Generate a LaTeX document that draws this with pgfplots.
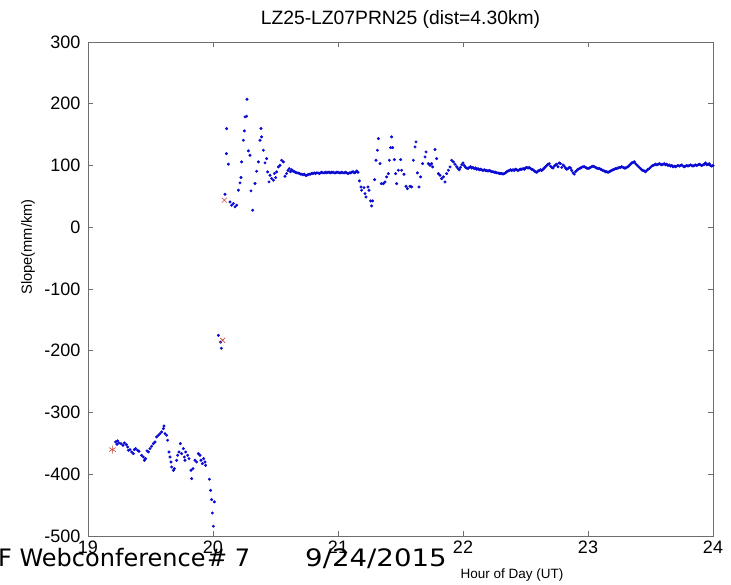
\documentclass[border=0pt]{standalone}
\usepackage{pgfplots}
\pgfplotsset{compat=1.18}
\usepackage{fontspec}
\setmainfont{Liberation Sans}
\newfontfamily\footerfont{DejaVu Sans}
\definecolor{dotblue}{RGB}{10,10,210}
\definecolor{mkred}{RGB}{200,70,60}
\definecolor{axgray}{RGB}{110,110,110}
\begin{document}
\begin{tikzpicture}[x=1pt,y=1pt]
\useasboundingbox (0,0) rectangle (731,584);
\begin{axis}[
  at={(88pt,48pt)}, anchor=south west,
  width=625pt, height=494pt, scale only axis,
  xmin=19, xmax=24, ymin=-500, ymax=300,
  xtick={19,20,21,22,23,24},
  ytick={-500,-400,-300,-200,-100,0,100,200,300},
  tick align=inside, major tick length=5pt,
  axis line style={axgray, line width=0.8pt},
  tick style={axgray, line width=0.8pt},
  /pgf/number format/assume math mode=true,
  tick label style={font=\fontsize{18}{18}\selectfont, black},
  xticklabel style={yshift=-1pt},
  yticklabel style={xshift=-4pt},
  clip=false,
]
\addplot[only marks, mark=*, mark size=1.3pt, color=dotblue, mark options={draw=none, fill=dotblue}] coordinates {
(19.221,-347.7)(19.237,-346.0)(19.232,-351.4)(19.248,-349.3)(19.264,-350.4)(19.280,-353.1)(19.291,-349.3)(19.307,-352.0)
(19.317,-355.8)(19.323,-361.2)(19.336,-360.1)(19.349,-363.9)(19.363,-366.6)(19.371,-360.1)(19.381,-358.5)(19.397,-361.2)
(19.408,-362.8)(19.429,-369.3)(19.443,-372.0)(19.451,-377.4)(19.461,-374.7)(19.472,-362.2)(19.483,-363.9)(19.496,-358.5)
(19.509,-354.7)(19.523,-350.4)(19.536,-347.7)(19.549,-339.6)(19.563,-336.9)(19.576,-334.2)(19.589,-331.5)(19.603,-326.1)
(19.608,-321.8)(19.616,-334.2)(19.629,-336.9)(19.637,-345.0)(19.648,-363.9)(19.656,-372.0)(19.664,-380.1)(19.669,-388.2)
(19.683,-393.6)(19.691,-390.9)(19.709,-377.4)(19.717,-369.3)(19.728,-363.9)(19.739,-350.4)(19.749,-366.6)(19.763,-358.5)
(19.771,-372.0)(19.776,-377.4)(19.781,-363.9)(19.797,-369.3)(19.808,-374.7)(19.824,-393.6)(19.829,-407.0)(19.840,-390.9)
(19.856,-377.4)(19.869,-380.1)(19.883,-366.6)(19.896,-369.3)(19.904,-377.4)(19.915,-382.8)(19.925,-374.7)(19.936,-380.1)
(19.941,-385.5)(19.971,-408.1)(19.981,-426.0)(19.989,-441.1)(20.011,-444.8)(19.995,-462.7)(20.003,-484.2)
(20.043,-175)(20.061,-186)(20.067,-196)
(20.096,53.5)(20.109,159.8)(20.107,119.3)(20.123,102.1)(20.136,41.0)(20.149,35.7)(20.163,38.4)(20.176,33.0)
(20.189,35.7)(20.203,60.0)(20.216,71.8)(20.224,80.5)(20.229,105.8)(20.243,140.9)(20.251,156.1)(20.256,178.7)
(20.269,179.8)(20.272,207.3)(20.283,123.7)(20.296,116.6)(20.304,58.9)(20.317,27.6)(20.336,70.8)(20.349,90.7)
(20.363,105.8)(20.376,140.9)(20.384,159.8)(20.389,146.3)(20.403,124.7)(20.416,104.2)(20.429,111.2)(20.437,89.6)
(20.448,73.5)(20.456,84.2)(20.469,78.9)(20.483,76.2)(20.491,87.0)(20.501,80.5)(20.509,89.6)(20.523,97.7)
(20.536,100.4)(20.549,108.5)(20.563,105.8)(20.576,82.6)(20.589,87.0)
(20.60,92)(20.61,95)(20.62,90)(20.63,93)(20.64,91)(20.65,90)(20.66,89)(20.67,88)(20.68,88)(20.69,87)
(20.70,86)(20.71,86)(20.72,85)(20.73,86)(20.74,84)(20.75,84)(20.76,85)(20.77,86)(20.78,86)(20.79,87)
(20.80,87)(20.81,88)(20.82,87)(20.83,88)(20.84,88)(20.85,87)(20.86,88)(20.87,89)(20.88,88)(20.89,88)
(20.90,89)(20.91,88)(20.92,89)(20.93,89)(20.94,88)(20.95,89)(20.96,89)(20.97,88)(20.98,88)(20.99,89)
(21.00,89)(21.01,88)(21.02,88)(21.03,89)(21.04,88)(21.05,88)(21.06,89)(21.07,88)(21.08,87)(21.09,88)
(21.10,88)(21.11,89)(21.12,90)(21.13,88)(21.14,89)(21.15,91)(21.16,89)
(21.171,75.0)(21.184,65.3)(21.189,59.9)(21.208,64.2)(21.216,54.5)(21.224,49.1)(21.240,65.3)(21.248,59.9)
(21.261,42.6)(21.277,42.6)(21.269,34.5)(21.293,77.2)(21.304,108.5)(21.315,124.7)(21.323,143.6)(21.336,103.1)
(21.347,70.7)(21.363,70.7)(21.376,73.4)(21.389,81.5)(21.403,86.9)(21.411,108.5)(21.421,129.0)(21.429,146.3)
(21.437,129.0)(21.451,109.6)(21.461,86.9)(21.469,70.7)(21.483,92.3)(21.501,109.6)(21.509,92.3)(21.528,85.8)
(21.544,66.4)(21.555,62.6)(21.576,66.4)(21.589,65.3)(21.603,108.5)(21.616,130.1)(21.624,138.2)(21.635,88.0)
(21.648,65.3)(21.661,81.5)(21.677,103.1)(21.696,113.9)(21.704,122.0)(21.723,103.1)(21.736,100.4)(21.749,103.1)
(21.757,97.7)(21.776,125.8)(21.789,111.2)(21.803,86.9)(21.816,84.2)(21.829,78.8)(21.843,81.5)(21.856,73.4)
(21.869,86.9)(21.883,92.3)(21.896,97.7)(21.909,108.5)(21.923,105.8)(21.936,102.1)
(21.95,98)(21.96,95)(21.97,93)(21.98,97)(21.99,101)(22.00,104)(22.01,100)(22.02,97)(22.03,96)(22.04,95)
(22.05,97)(22.06,98)(22.07,96)(22.08,97)(22.09,95)(22.10,96)(22.11,94)(22.12,95)(22.13,93)(22.14,94)
(22.15,93)(22.16,92)(22.17,93)(22.18,92)(22.19,92)(22.20,91)(22.21,92)(22.22,91)(22.23,90)(22.24,90)
(22.25,89)(22.26,89)(22.27,88)(22.28,88)(22.29,87)(22.30,87)(22.31,87)(22.32,86)(22.33,87)(22.34,88)
(22.35,90)(22.36,91)(22.37,92)(22.38,93)(22.39,92)(22.40,93)(22.41,92)(22.42,94)(22.43,93)(22.44,92)
(22.45,93)(22.46,94)(22.47,94)(22.48,95)(22.49,94)(22.50,96)(22.51,97)(22.52,96)(22.53,97)(22.54,95)
(22.55,94)(22.56,93)(22.57,91)(22.58,90)(22.59,89)(22.60,91)(22.61,92)(22.62,93)(22.63,92)(22.64,94)
(22.65,96)(22.66,98)(22.67,100)(22.68,102)(22.69,103)(22.70,99)(22.71,97)(22.72,96)(22.73,99)(22.74,101)
(22.75,102)(22.76,98)(22.77,104)(22.78,103)(22.79,97)(22.80,101)(22.81,99)(22.82,96)(22.83,94)(22.84,95)
(22.85,97)(22.86,96)(22.87,92)(22.88,88)(22.89,86)(22.90,90)(22.91,92)(22.92,94)(22.93,95)(22.94,96)
(22.95,97)(22.96,98)(22.97,98)(22.98,97)(22.99,96)(23.00,95)(23.01,96)(23.02,97)(23.03,98)(23.04,99)
(23.05,98)(23.06,97)(23.07,96)(23.08,95)(23.09,95)(23.10,94)(23.11,93)(23.12,92)(23.13,91)(23.14,90)
(23.15,90)(23.16,89)(23.17,90)(23.18,91)(23.19,92)(23.20,93)(23.21,94)(23.22,95)(23.23,95)(23.24,96)
(23.25,97)(23.26,97)(23.27,98)(23.28,97)(23.29,96)(23.30,96)(23.31,97)(23.32,98)(23.33,100)(23.34,102)
(23.35,104)(23.36,105)(23.37,106)(23.38,103)(23.39,101)(23.40,99)(23.41,97)(23.42,95)(23.43,93)(23.44,92)
(23.45,91)(23.46,90)(23.47,92)(23.48,94)(23.49,95)(23.50,97)(23.51,99)(23.52,100)(23.53,101)(23.54,102)
(23.55,101)(23.56,102)(23.57,103)(23.58,102)(23.59,101)(23.60,102)(23.61,103)(23.62,101)(23.63,102)(23.64,100)
(23.65,101)(23.66,99)(23.67,100)(23.68,98)(23.69,99)(23.70,98)(23.71,99)(23.72,100)(23.73,99)(23.74,100)
(23.75,101)(23.76,99)(23.77,98)(23.78,99)(23.79,100)(23.80,99)(23.81,100)(23.82,101)(23.83,100)(23.84,99)
(23.85,100)(23.86,101)(23.87,100)(23.88,101)(23.89,102)(23.90,101)(23.91,100)(23.92,101)(23.93,102)(23.94,104)
(23.95,101)(23.96,102)(23.97,103)(23.98,100)(23.99,99)(24.00,100)
};
\addplot[only marks, mark=asterisk, mark size=4pt, color=mkred, mark options={line width=0.6pt}] coordinates {(19.195,-360)};
\addplot[only marks, mark=x, mark size=3.5pt, color=mkred, mark options={line width=0.6pt}] coordinates {(20.077,-183)(20.091,44)};
\end{axis}
\node[font=\fontsize{19.3}{19.3}\selectfont] at (400.5,564) {LZ25-LZ07PRN25 (dist=4.30km)};
\node[rotate=90, font=\fontsize{14.7}{14.7}\selectfont] at (28,337) {Slope(mm/km)};
\node[font=\fontsize{13.5}{13.5}\selectfont] at (512,9) {Hour of Day (UT)};
\node[anchor=base west, inner sep=0pt, font=\footerfont\fontsize{24}{24}\selectfont] at (-2,18) {F Webconference};
\node[anchor=base west, inner sep=0pt, font=\footerfont\fontsize{24}{24}\selectfont] at (207,18) {\# 7};
\node[anchor=base west, inner sep=0pt, xscale=1.15, font=\footerfont\fontsize{24}{24}\selectfont] at (305,18) {9/24/2015};
\end{tikzpicture}
\end{document}
